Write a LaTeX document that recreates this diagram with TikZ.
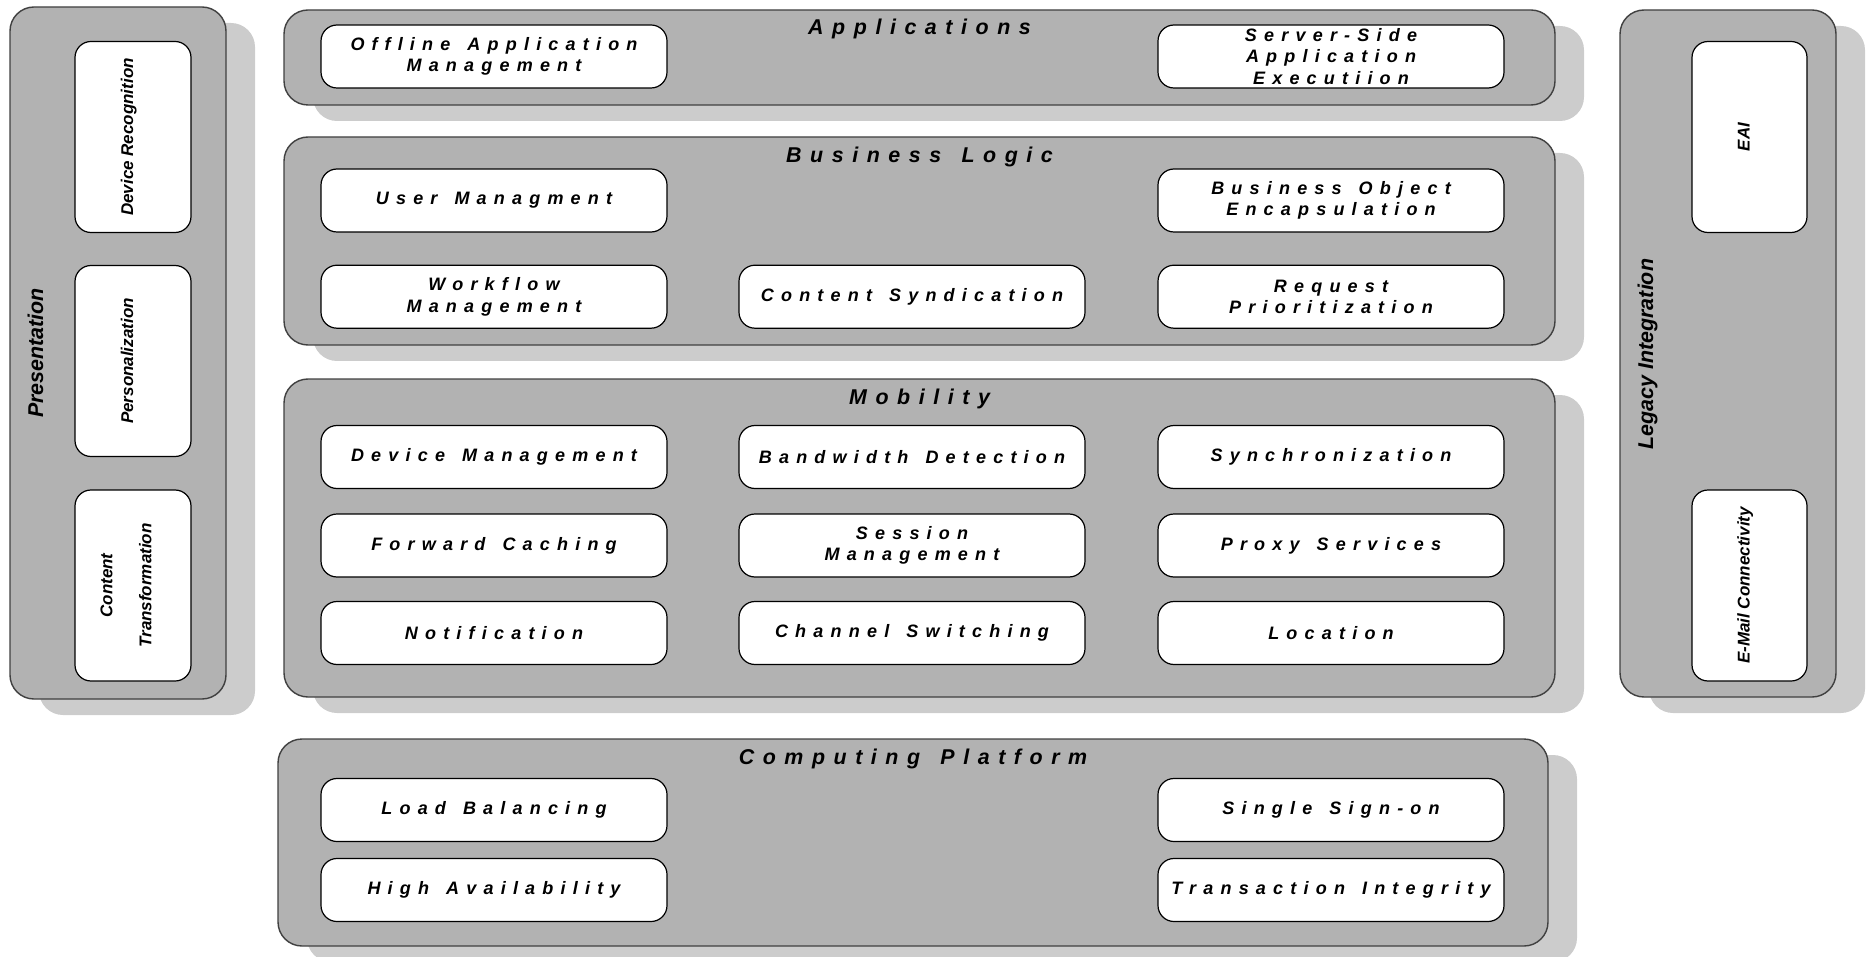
\documentclass[tikz,border=0pt]{standalone}
\usepackage{fontspec}
\setmainfont{Liberation Sans}
\newfontfamily\spacedfont{Liberation Sans}[LetterSpace=40,WordSpace=1.4]
\usetikzlibrary{shadows}
\definecolor{panelgray}{RGB}{178,178,178}
\definecolor{shadowgray}{RGB}{204,204,204}

\begin{document}
\begin{tikzpicture}[x=1pt,y=-1pt,
  panel/.style={draw=black!75,line width=1.4pt,fill=panelgray,rounded corners=24pt,inner sep=0pt,
    drop shadow={shadow xshift=29pt,shadow yshift=-16pt,fill=shadowgray,opacity=1}},
  card/.style={draw=black,line width=1.2pt,fill=white,rounded corners=16pt,inner sep=0pt,
    minimum width=346pt,minimum height=63pt,align=center,
    font=\spacedfont\bfseries\itshape\fontsize{18}{21.5}\selectfont},
  vcard/.style={draw=black,line width=1.2pt,fill=white,rounded corners=16pt,inner sep=0pt,
    minimum width=116pt,minimum height=191pt},
  vlab/.style={rotate=90,anchor=base,inner sep=0pt,align=center,
    font=\bfseries\itshape\fontsize{17}{39}\selectfont},
  ttl/.style={anchor=base,inner sep=0pt,font=\spacedfont\bfseries\itshape\fontsize{21.4}{24}\selectfont},
  side/.style={rotate=90,anchor=base,inner sep=0pt,font=\bfseries\itshape\fontsize{21.4}{24}\selectfont}]
  \useasboundingbox (0,0) rectangle (1868,957);

  % left column
  \node[panel,minimum width=216pt,minimum height=692pt] (pres) at (118,353) {};
  \node[side] (presl) at (43,353) {Presentation};
  \node[vcard] (devrec) at (133,137) {};
  \node[vlab] (devrecl) at (devrec.center) {Device Recognition};
  \node[vcard] (perso) at (133,361) {};
  \node[vlab] (persol) at (perso.center) {Personalization};
  \node[vcard] (ctrans) at (133,585.5) {};
  \node[vlab,anchor=center] (ctransl) at (126,585.5) {Content\\Transformation};

  % right column
  \node[panel,minimum width=216pt,minimum height=687pt] (legacy) at (1728,353.5) {};
  \node[side] (legacyl) at (1653,354) {Legacy Integration};
  \node[vcard,minimum width=115pt] (eai) at (1749.5,137) {};
  \node[vlab] (eail) at (eai.center) {EAI};
  \node[vcard,minimum width=115pt] (email) at (1749.5,585.5) {};
  \node[vlab] (emaill) at (email.center) {E-Mail Connectivity};

  % applications
  \node[panel,minimum width=1271pt,minimum height=95pt] (app) at (919.5,57.5) {};
  \node[ttl] (appt) at ([yshift=-25pt]app.north) {Applications};
  \node[card] (offline) at (494,56.5) {Offline Application\\Management};
  \node[card] (server) at (1331,56.5) {Server-Side\\Application\\Executiion};

  % business logic
  \node[panel,minimum width=1271pt,minimum height=208pt] (biz) at (919.5,241) {};
  \node[ttl] (bizt) at ([yshift=-26pt]biz.north) {Business Logic};
  \node[card] (user) at (494,200.5) {User Managment};
  \node[card] (bizobj) at (1331,200.5) {Business Object\\Encapsulation};
  \node[card] (workflow) at (494,296.7) {Workflow\\Management};
  \node[card] (syndic) at (912,296.7) {Content Syndication};
  \node[card] (request) at (1331,296.7) {Request\\Prioritization};

  % mobility
  \node[panel,minimum width=1271pt,minimum height=318pt] (mob) at (919.5,538) {};
  \node[ttl] (mobt) at ([yshift=-26pt]mob.north) {Mobility};
  \node[card] (devmgmt) at (494,457) {Device Management};
  \node[card] (bandw) at (912,457) {Bandwidth Detection};
  \node[card] (sync) at (1331,457) {Synchronization};
  \node[card] (fwdcache) at (494,545.5) {Forward Caching};
  \node[card] (session) at (912,545.5) {Session\\Management};
  \node[card] (proxy) at (1331,545.5) {Proxy Services};
  \node[card] (notif) at (494,633) {Notification};
  \node[card] (channel) at (912,633) {Channel Switching};
  \node[card] (location) at (1331,633) {Location};

  % computing platform
  \node[panel,minimum width=1270pt,minimum height=207pt] (comp) at (913,842.5) {};
  \node[ttl] (compt) at ([yshift=-26pt]comp.north) {Computing Platform};
  \node[card] (loadbal) at (494,810) {Load Balancing};
  \node[card] (sso) at (1331,810) {Single Sign-on};
  \node[card] (highav) at (494,890) {High Availability};
  \node[card] (txn) at (1331,890) {Transaction Integrity};
\end{tikzpicture}
\end{document}
